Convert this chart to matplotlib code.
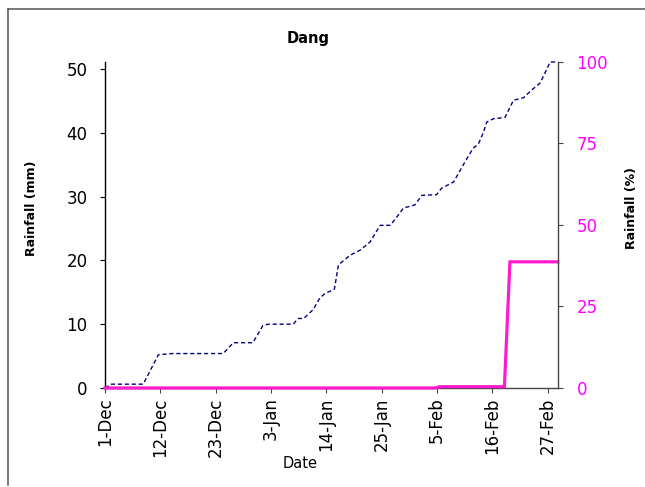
import matplotlib
matplotlib.use("Agg")
import matplotlib.pyplot as plt
from matplotlib.lines import Line2D

# cumulative rainfall (mm); x = days since 1-Dec
cum_days = [0, 1.3, 7.6, 10.6, 13.3, 23.5, 25.5, 29.4, 31.4, 32.5, 37.4, 38.4, 39.5,
            41.4, 42.7, 43.7, 45.6, 46.4, 48.7, 50.7, 52.7, 54.7, 56.7, 58.6, 59.3,
            61.6, 63.0, 65.9, 66.9, 69.3, 71.6, 73.2, 74.2, 75.2, 75.9, 77.2, 79.5,
            81.2, 83.2, 84.8, 86.5, 88.5, 90]
cum_mm = [0, 0.6, 0.6, 5.2, 5.4, 5.4, 7.1, 7.1, 9.8, 10.0, 10.0, 10.9, 10.9,
          12.3, 14.1, 14.8, 15.5, 19.3, 20.8, 21.6, 22.9, 25.5, 25.5, 27.4, 28.2,
          28.7, 30.2, 30.3, 31.3, 32.3, 35.5, 37.6, 38.2, 40.0, 41.7, 42.2, 42.4,
          45.1, 45.5, 46.7, 47.8, 51.1, 51.1]

# rainfall (%)
pct_days = [0, 65.6, 66.5, 79.4, 80.5, 90]
pct_vals = [0, 0, 0.4, 0.4, 38.7, 38.7]

tick_days = [0, 11, 22, 33, 44, 55, 66, 77, 88]
tick_labels = ['1-Dec', '12-Dec', '23-Dec', '3-Jan', '14-Jan', '25-Jan', '5-Feb', '16-Feb', '27-Feb']

pink = '#FF1ACD'
label_pink = '#FF00FF'
grey = '#444444'

fig = plt.figure(figsize=(6.45, 4.87), dpi=100)
ax = fig.add_axes([0.1628, 0.2033, 0.7019, 0.6694])
ax2 = ax.twinx()

ax.plot(cum_days, cum_mm, color='#000080', lw=1.0, dashes=(3, 2), clip_on=False)
ax2.plot(pct_days, pct_vals, color=pink, lw=2.3, clip_on=False, solid_joinstyle='miter')

ax.set_xlim(0, 90)
ax.set_ylim(0, 51.1)
ax2.set_ylim(0, 100)

ax.set_xticks(tick_days)
ax.set_xticklabels(tick_labels, rotation=90, fontsize=12)
ax.set_yticks([0, 10, 20, 30, 40, 50])
ax.tick_params(axis='y', labelsize=12, length=3.6, pad=9, color='black')
ax.tick_params(axis='x', length=3.6, pad=3, color=grey)
ax2.set_yticks([0, 25, 50, 75, 100])
ax2.tick_params(axis='y', labelsize=12, length=3.6, pad=10, colors=label_pink, color=grey)

for a in (ax, ax2):
    a.spines['top'].set_visible(False)
ax.spines['right'].set_visible(False)
ax2.spines['left'].set_visible(False)
ax2.spines['bottom'].set_visible(False)
ax.spines['left'].set_color('black')
ax.spines['bottom'].set_color(grey)
ax2.spines['right'].set_color(grey)
for s in ('left', 'bottom'):
    ax.spines[s].set_linewidth(1.0)
ax2.spines['right'].set_linewidth(1.0)

fig.text(308 / 645, 1 - 38 / 487, 'Dang', ha='center', va='center', fontsize=10.5, fontweight='bold')
fig.text(300 / 645, 1 - 464 / 487, 'Date', ha='center', va='center', fontsize=10.5)
fig.text(32 / 645, 1 - 208 / 487, 'Rainfall (mm)', ha='center', va='center', rotation=90,
         fontsize=9, fontweight='bold')
fig.text(632 / 645, 1 - 208 / 487, 'Rainfall (%)', ha='center', va='center', rotation=90,
         fontsize=9, fontweight='bold')

# outer frame (left and top edges only)
fig.add_artist(Line2D([8 / 645, 8 / 645], [1 - 485 / 487, 1 - 9 / 487], color='#555555', lw=1.1))
fig.add_artist(Line2D([8 / 645, 1.0], [1 - 9 / 487, 1 - 9 / 487], color='#555555', lw=1.1))

fig.savefig('out.png', dpi=100)
